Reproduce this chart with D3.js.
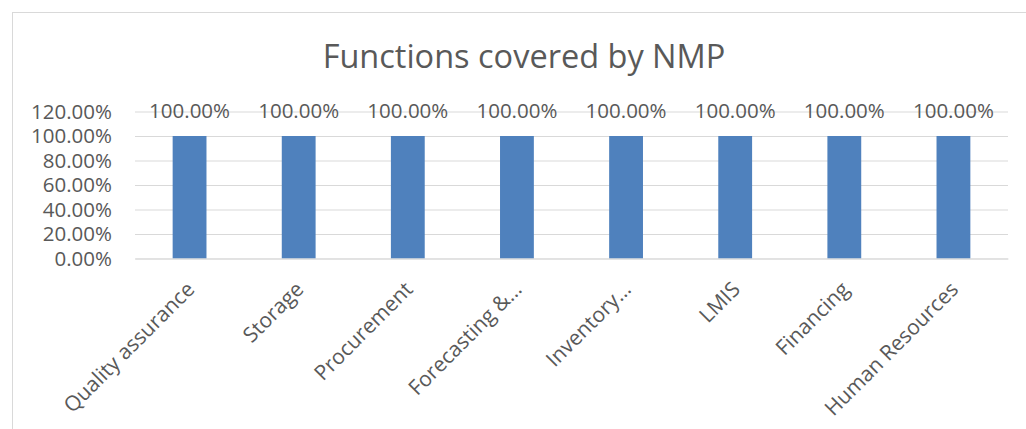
<!DOCTYPE html>
<html><head><meta charset="utf-8">
<script src="https://cdn.jsdelivr.net/npm/d3@7"></script>
<style>body{margin:0;background:#fff}svg{display:block}text{font-family:"Open Sans",sans-serif;fill:#595959}</style>
</head><body>
<svg id="c" width="1026" height="429"></svg>
<script>
const categories = ["Quality assurance","Storage","Procurement","Forecasting &\u2026","Inventory\u2026","LMIS","Financing","Human Resources"];
const values = [1,1,1,1,1,1,1,1];
const yTicks = [0,0.2,0.4,0.6,0.8,1.0,1.2];
const title = "Functions covered by NMP";

const svg = d3.select("#c");
svg.append("rect").attr("x",12.5).attr("y",12.5).attr("width",1030).attr("height",430)
  .attr("fill","#fff").attr("stroke","#d9d9d9");

const x = d3.scaleBand().domain(categories).range([135,1008]).paddingInner(0.69).paddingOuter(0.345);
const y = d3.scaleLinear().domain([0,1.2]).range([258.5,111.5]);
const fmt = d => (d*100).toFixed(2)+"%";

svg.append("text").attr("x",524).attr("y",68).attr("text-anchor","middle")
  .style("font-size","32.5px").text(title);

const ga = svg.append("g").attr("transform","translate(135,0)")
  .call(d3.axisLeft(y).tickValues(yTicks).tickSize(-873).tickFormat(fmt).tickPadding(23));
ga.select(".domain").remove();
ga.selectAll("line").attr("stroke","#d9d9d9");
ga.selectAll("text").style("font-size","20.5px").attr("fill","#595959");

svg.selectAll(".bar").data(values).join("rect").attr("class","bar")
  .attr("x",(d,i)=>x(categories[i])).attr("width",x.bandwidth())
  .attr("y",d=>y(d)).attr("height",d=>y(0)-y(d)).attr("fill","#4f81bd");

svg.selectAll(".lbl").data(values).join("text").attr("class","lbl")
  .attr("x",(d,i)=>x(categories[i])+x.bandwidth()/2).attr("y",y(1.2)+6)
  .attr("text-anchor","middle").style("font-size","20.5px").text(d=>fmt(d));

const gx = svg.append("g").attr("transform",`translate(0,${y(0)})`)
  .call(d3.axisBottom(x).tickSize(0).tickFormat(d=>d));
gx.select(".domain").attr("stroke","#d9d9d9");
gx.selectAll("text").style("font-size","21px").attr("fill","#595959")
  .attr("text-anchor","end").attr("dy","0.35em")
  .attr("transform","translate(1,27) rotate(-45)").attr("y",0);
</script></body></html>
